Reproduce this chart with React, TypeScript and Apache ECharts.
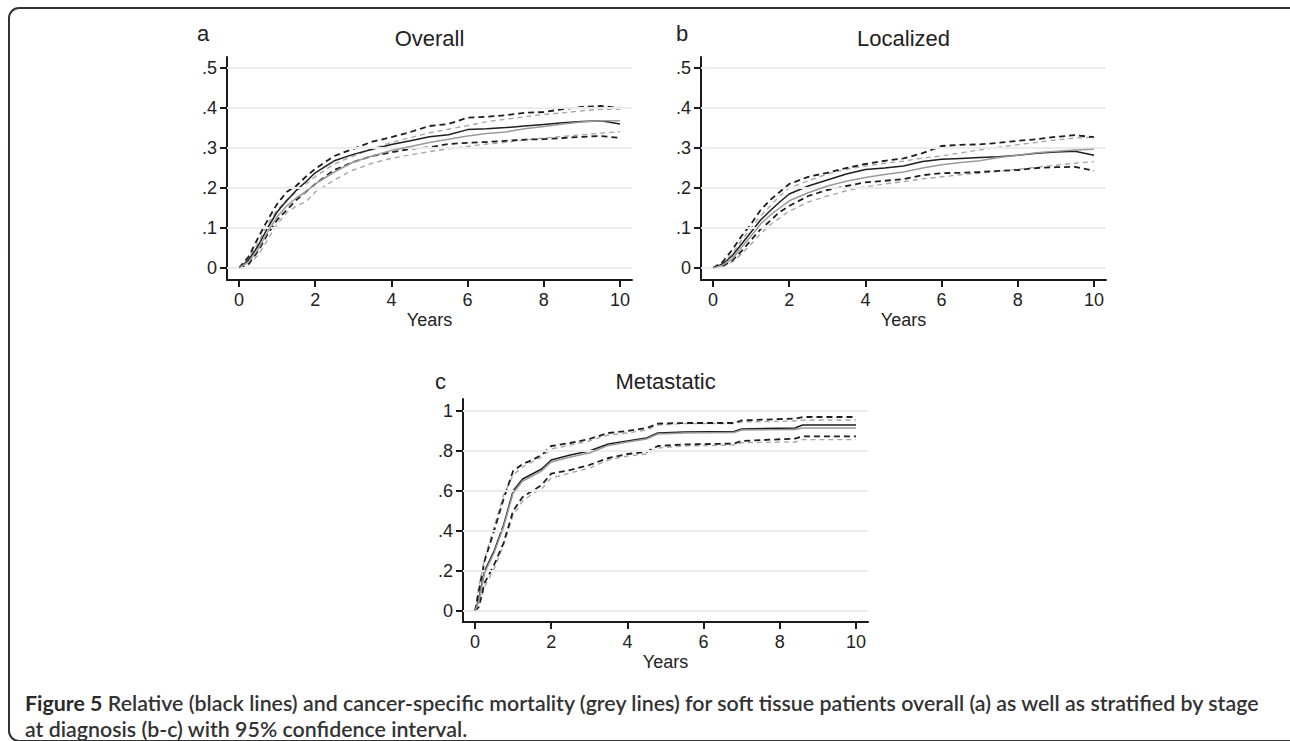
import React, { useEffect, useRef } from "react";
import * as echarts from "echarts";

// ---------- DATA ----------
const T_AB = [0, 0.25, 0.5, 0.75, 1, 1.25, 1.5, 1.75, 2, 2.5, 3, 3.5, 4, 4.5, 5, 5.5, 6, 6.5, 7, 7.5, 8, 8.5, 9, 9.5, 10];
const T_C = [0, 0.1, 0.25, 0.5, 0.75, 1, 1.25, 1.5, 1.75, 2, 2.5, 3, 3.5, 4, 4.5, 4.8, 5.5, 6.8, 7, 8.4, 8.6, 10];

const X_TICKS = [0, 2, 4, 6, 8, 10];
const Y_TICKS_AB = [0, 0.1, 0.2, 0.3, 0.4, 0.5];
const Y_TICKS_C = [0, 0.2, 0.4, 0.6, 0.8, 1];

// Panel a – Overall
const A_REL = [0, 0.02, 0.055, 0.1, 0.14, 0.168, 0.194, 0.215, 0.238, 0.268, 0.284, 0.297, 0.309, 0.318, 0.328, 0.333, 0.346, 0.348, 0.351, 0.355, 0.359, 0.363, 0.366, 0.368, 0.36];
const A_REL_HI = [0, 0.028, 0.075, 0.12, 0.16, 0.19, 0.205, 0.228, 0.248, 0.28, 0.298, 0.316, 0.327, 0.34, 0.355, 0.36, 0.376, 0.378, 0.382, 0.388, 0.39, 0.397, 0.403, 0.405, 0.4];
const A_REL_LO = [0, 0.01, 0.042, 0.085, 0.12, 0.145, 0.17, 0.19, 0.21, 0.245, 0.265, 0.28, 0.289, 0.298, 0.302, 0.31, 0.313, 0.315, 0.318, 0.321, 0.322, 0.325, 0.328, 0.33, 0.325];
const A_CS = [0, 0.015, 0.047, 0.09, 0.128, 0.155, 0.175, 0.19, 0.21, 0.24, 0.265, 0.28, 0.294, 0.304, 0.314, 0.322, 0.33, 0.336, 0.34, 0.348, 0.354, 0.36, 0.365, 0.368, 0.368];
const A_CS_HI = [0, 0.025, 0.062, 0.11, 0.145, 0.17, 0.19, 0.21, 0.228, 0.26, 0.28, 0.298, 0.314, 0.326, 0.338, 0.347, 0.356, 0.366, 0.372, 0.378, 0.384, 0.388, 0.393, 0.397, 0.397];
const A_CS_LO = [0, 0.008, 0.032, 0.07, 0.11, 0.138, 0.155, 0.165, 0.19, 0.22, 0.245, 0.262, 0.274, 0.283, 0.291, 0.298, 0.304, 0.31, 0.314, 0.32, 0.325, 0.329, 0.333, 0.337, 0.341];

// Panel b – Localized
const B_REL = [0, 0.01, 0.03, 0.06, 0.09, 0.12, 0.143, 0.165, 0.185, 0.205, 0.22, 0.235, 0.246, 0.25, 0.255, 0.266, 0.272, 0.274, 0.276, 0.278, 0.282, 0.287, 0.29, 0.292, 0.282];
const B_REL_HI = [0, 0.015, 0.045, 0.08, 0.11, 0.145, 0.17, 0.19, 0.21, 0.228, 0.238, 0.25, 0.26, 0.268, 0.274, 0.287, 0.305, 0.308, 0.309, 0.313, 0.318, 0.322, 0.328, 0.332, 0.327];
const B_REL_LO = [0, 0.005, 0.018, 0.042, 0.07, 0.097, 0.118, 0.14, 0.155, 0.18, 0.195, 0.205, 0.214, 0.218, 0.222, 0.232, 0.237, 0.238, 0.24, 0.243, 0.245, 0.25, 0.252, 0.253, 0.243];
const B_CS = [0, 0.007, 0.022, 0.052, 0.08, 0.11, 0.132, 0.15, 0.168, 0.188, 0.205, 0.217, 0.226, 0.234, 0.24, 0.25, 0.258, 0.264, 0.268, 0.276, 0.282, 0.288, 0.292, 0.295, 0.297];
const B_CS_HI = [0, 0.012, 0.035, 0.07, 0.1, 0.13, 0.155, 0.18, 0.2, 0.218, 0.235, 0.247, 0.255, 0.262, 0.267, 0.275, 0.28, 0.288, 0.295, 0.302, 0.308, 0.314, 0.32, 0.325, 0.327];
const B_CS_LO = [0, 0.004, 0.015, 0.035, 0.06, 0.085, 0.108, 0.125, 0.142, 0.165, 0.18, 0.193, 0.203, 0.21, 0.216, 0.223, 0.228, 0.233, 0.237, 0.242, 0.247, 0.252, 0.257, 0.262, 0.266];

// Panel c – Metastatic
const C_REL = [0, 0.06, 0.2, 0.3, 0.43, 0.6, 0.66, 0.685, 0.71, 0.755, 0.78, 0.8, 0.835, 0.85, 0.865, 0.89, 0.895, 0.898, 0.91, 0.915, 0.93, 0.93];
const C_REL_HI = [0, 0.1, 0.25, 0.4, 0.56, 0.7, 0.735, 0.755, 0.78, 0.825, 0.84, 0.86, 0.89, 0.9, 0.915, 0.937, 0.94, 0.94, 0.953, 0.962, 0.97, 0.97];
const C_REL_LO = [0, 0.02, 0.14, 0.23, 0.34, 0.5, 0.57, 0.6, 0.63, 0.687, 0.705, 0.73, 0.765, 0.785, 0.795, 0.825, 0.833, 0.837, 0.85, 0.862, 0.873, 0.873];
const C_CS = [0, 0.05, 0.19, 0.29, 0.42, 0.59, 0.65, 0.675, 0.7, 0.745, 0.77, 0.79, 0.828, 0.845, 0.86, 0.885, 0.89, 0.892, 0.905, 0.908, 0.915, 0.915];
const C_CS_HI = [0, 0.12, 0.26, 0.42, 0.58, 0.68, 0.72, 0.745, 0.77, 0.81, 0.83, 0.85, 0.88, 0.89, 0.905, 0.93, 0.937, 0.937, 0.945, 0.95, 0.955, 0.955];
const C_CS_LO = [0, 0.02, 0.12, 0.21, 0.33, 0.48, 0.55, 0.585, 0.61, 0.665, 0.69, 0.715, 0.755, 0.775, 0.785, 0.815, 0.825, 0.83, 0.842, 0.845, 0.857, 0.857];

const CAPTION_BOLD = "Figure 5";
const CAPTION_LINE1 = " Relative (black lines) and cancer-specific mortality (grey lines) for soft tissue patients overall (a) as well as stratified by stage";
const CAPTION_LINE2 = "at diagnosis (b-c) with 95% confidence interval.";

// ---------- LAYOUT ----------
const PANELS = [
  { letter: "a", title: "Overall", left: 227, top: 57, yMin: -0.03, yMax: 0.5275, yTicks: Y_TICKS_AB, t: T_AB,
    rel: A_REL, relHi: A_REL_HI, relLo: A_REL_LO, cs: A_CS, csHi: A_CS_HI, csLo: A_CS_LO, letterX: 197, letterY: 33, titleY: 38.5 },
  { letter: "b", title: "Localized", left: 701, top: 57, yMin: -0.03, yMax: 0.5275, yTicks: Y_TICKS_AB, t: T_AB,
    rel: B_REL, relHi: B_REL_HI, relLo: B_REL_LO, cs: B_CS, csHi: B_CS_HI, csLo: B_CS_LO, letterX: 676, letterY: 33, titleY: 38.5 },
  { letter: "c", title: "Metastatic", left: 463, top: 399, yMin: -0.055, yMax: 1.06, yTicks: Y_TICKS_C, t: T_C,
    rel: C_REL, relHi: C_REL_HI, relLo: C_REL_LO, cs: C_CS, csHi: C_CS_HI, csLo: C_CS_LO, letterX: 435, letterY: 381, titleY: 381.5 },
];
const GRID_W = 405;
const GRID_H = 223;
const X_MIN = -0.315;
const X_MAX = 10.315;

const FONT = "'Liberation Sans', Arial, Helvetica, sans-serif";
const CAP_FONT = "Lato, 'Open Sans', sans-serif";

const fmtY = (v: number) => {
  if (Math.abs(v) < 1e-9) return "0";
  if (Math.abs(v - Math.round(v)) < 1e-9) return String(Math.round(v));
  return (Math.round(v * 10) / 10).toFixed(1).replace(/^0/, "");
};

function measure(font: string, text: string) {
  const ctx = document.createElement("canvas").getContext("2d");
  if (!ctx) return text.length * 9;
  ctx.font = font;
  return ctx.measureText(text).width;
}

export default function App() {
  const ref = useRef<HTMLDivElement>(null);

  useEffect(() => {
    if (!ref.current) return;
    const chart = echarts.init(ref.current, undefined, { renderer: "svg" });

    const grids: any[] = [];
    const xAxes: any[] = [];
    const yAxes: any[] = [];
    const series: any[] = [];
    const graphics: any[] = [];

    PANELS.forEach((p, i) => {
      grids.push({ left: p.left, top: p.top, width: GRID_W, height: GRID_H, containLabel: false });
      xAxes.push({
        type: "value", gridIndex: i, min: X_MIN, max: X_MAX,
        name: "Years", nameLocation: "middle", nameGap: 31,
        nameTextStyle: { fontFamily: FONT, fontSize: 18, color: "#222" },
        axisLine: { show: true, onZero: false, lineStyle: { color: "#1a1a1a", width: 2 } },
        axisTick: { show: true, length: 7, customValues: X_TICKS, lineStyle: { color: "#1a1a1a", width: 2 } },
        axisLabel: { show: true, customValues: X_TICKS, margin: 11, fontFamily: FONT, fontSize: 18, color: "#222", formatter: (v: number) => String(v) },
        splitLine: { show: false },
      });
      yAxes.push({
        type: "value", gridIndex: i, min: p.yMin, max: p.yMax,
        axisLine: { show: true, onZero: false, lineStyle: { color: "#1a1a1a", width: 2 } },
        axisTick: { show: true, length: 7, customValues: p.yTicks, lineStyle: { color: "#1a1a1a", width: 2 } },
        axisLabel: { show: true, customValues: p.yTicks, margin: 10, fontFamily: FONT, fontSize: 18, color: "#222", formatter: (v: number) => fmtY(v) },
        splitLine: { show: false },
      });

      // grid lines
      series.push({
        type: "line", xAxisIndex: i, yAxisIndex: i, data: [[0, 0]], showSymbol: false, silent: true, z: 1,
        lineStyle: { opacity: 0 },
        markLine: {
          silent: true, symbol: ["none", "none"], label: { show: false },
          lineStyle: { color: "#ebebeb", width: 1.8, type: "solid" },
          emphasis: { disabled: true },
          data: p.yTicks.map((v) => ({ yAxis: v })),
        },
      });

      const mk = (vals: number[], color: string, width: number, type: any, z: number) => ({
        type: "line", xAxisIndex: i, yAxisIndex: i, showSymbol: false, symbol: "none", silent: true, z,
        data: p.t.map((t, k) => [t, vals[k]]),
        lineStyle: { color, width, type },
      });
      series.push(mk(p.csHi, "#a8a8a8", 1.4, [5, 4], 2));
      series.push(mk(p.csLo, "#a8a8a8", 1.4, [5, 4], 2));
      series.push(mk(p.relHi, "#1e1e1e", 1.8, [6, 4], 3));
      series.push(mk(p.relLo, "#1e1e1e", 1.8, [6, 4], 3));
      series.push(mk(p.rel, "#1e1e1e", 1.5, "solid", 4));
      series.push(mk(p.cs, "#9a9a9a", 1.5, "solid", 5));

      graphics.push({
        type: "text", x: p.letterX, y: p.letterY, silent: true,
        style: { text: p.letter, fontFamily: FONT, fontSize: 22, fill: "#222", align: "left", verticalAlign: "middle" },
      });
      graphics.push({
        type: "text", x: p.left + GRID_W / 2, y: p.titleY, silent: true,
        style: { text: p.title, fontFamily: FONT, fontSize: 22, fill: "#222", align: "center", verticalAlign: "middle" },
      });
    });

    // caption, fitted to the reference width
    const base = 20;
    const w1 = measure(`bold ${base}px Lato`, CAPTION_BOLD) + measure(`600 ${base}px Lato`, CAPTION_LINE1);
    const capSize = Math.max(14, Math.min(24, (base * 1237) / w1));
    const rich = {
      b: { fontFamily: CAP_FONT, fontWeight: "bold", fontSize: capSize, fill: "#2a2a2a" },
      s: { fontFamily: CAP_FONT, fontWeight: 600, fontSize: capSize, fill: "#333" },
    };
    graphics.push({
      type: "text", x: 25, y: 703, silent: true,
      style: { text: `{b|${CAPTION_BOLD}}{s|${CAPTION_LINE1}}`, rich, align: "left", verticalAlign: "middle" },
    });
    graphics.push({
      type: "text", x: 25, y: 729, silent: true,
      style: { text: `{s|${CAPTION_LINE2}}`, rich, align: "left", verticalAlign: "middle" },
    });

    // frame
    graphics.push({
      type: "rect", silent: true, z: 0,
      shape: { x: 9, y: 8, width: 1300, height: 733, r: 10 },
      style: { fill: "none", stroke: "#333", lineWidth: 2 },
    });

    chart.setOption({
      animation: false,
      backgroundColor: "#fff",
      grid: grids,
      xAxis: xAxes,
      yAxis: yAxes,
      series,
      graphic: graphics,
    });

    return () => chart.dispose();
  }, []);

  return <div ref={ref} style={{ position: "absolute", left: 0, top: 0, width: 1290, height: 741 }} />;
}
